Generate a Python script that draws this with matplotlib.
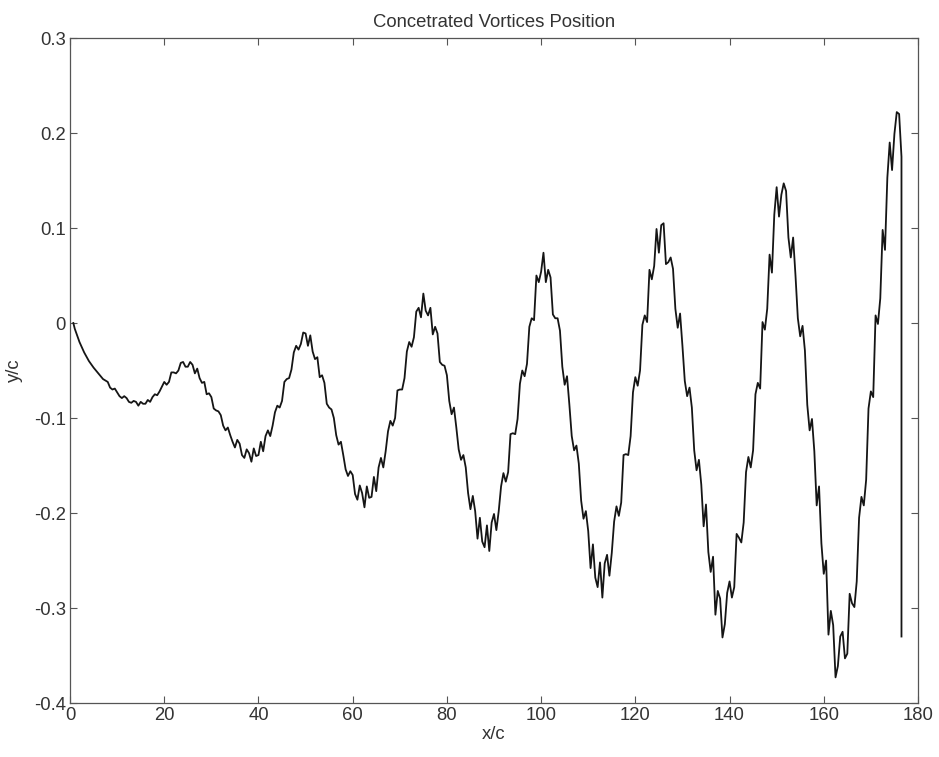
import numpy as np
import matplotlib.pyplot as plt

plt.rcParams['font.family'] = ['Liberation Sans', 'DejaVu Sans']

# Posición de los vórtices concentrados
x_c = [0.7, 1, 2, 3, 4, 5, 6, 7, 8, 9, 10, 11, 12, 13, 14, 15, 16, 17, 18, 19,
       20, 21, 22, 23, 24, 25, 26, 27, 28, 29, 30, 31, 32, 33, 34, 35, 36, 37, 38, 39,
       40, 41, 42, 43, 44, 45, 46, 47, 48, 49, 50, 51, 52, 53, 54, 55, 56, 57, 58, 59,
       60, 61, 62, 63, 64, 65, 66, 67, 68, 69, 70, 71, 72, 73, 74, 75, 76, 77, 78, 79,
       80, 81, 82, 83, 84, 85, 86, 87, 88, 89, 90, 91, 92, 93, 94, 95, 96, 97, 98, 99,
       100, 101, 102, 103, 104, 105, 106, 107, 108, 109, 110, 111, 112, 113, 114, 115, 116, 117, 118, 119,
       120, 121, 122, 123, 124, 125, 126, 127, 128, 129, 130, 131, 132, 133, 134, 135, 136, 137, 138, 139,
       140, 141, 142, 143, 144, 145, 146, 147, 148, 149, 150, 151, 152, 153, 154, 155, 156, 157, 158, 159,
       160, 161, 162, 163, 164, 165, 166, 167, 168, 169, 170, 171, 172, 173, 174, 175, 176]

y_c = [0.000, -0.006, -0.020, -0.031, -0.040, -0.047, -0.053, -0.059, -0.062, -0.070,
       -0.073, -0.079, -0.079, -0.084, -0.083, -0.083, -0.085, -0.083, -0.075, -0.072,
       -0.062, -0.062, -0.052, -0.050, -0.041, -0.046, -0.044, -0.048, -0.063, -0.075,
       -0.078, -0.092, -0.097, -0.113, -0.118, -0.131, -0.127, -0.142, -0.137, -0.132,
       -0.139, -0.135, -0.113, -0.108, -0.087, -0.082, -0.059, -0.049, -0.024, -0.022,
       -0.011, -0.013, -0.038, -0.057, -0.063, -0.089, -0.100, -0.128, -0.139, -0.161,
       -0.160, -0.186, -0.179, -0.172, -0.183, -0.177, -0.142, -0.135, -0.103, -0.100,
       -0.070, -0.058, -0.020, -0.015, 0.016, 0.031, 0.008, -0.012, -0.011, -0.044,
       -0.055, -0.096, -0.110, -0.144, -0.152, -0.196, -0.198, -0.205, -0.236, -0.240,
       -0.201, -0.198, -0.158, -0.157, -0.116, -0.101, -0.050, -0.043, 0.005, 0.050,
       0.054, 0.043, 0.048, 0.005, -0.008, -0.065, -0.086, -0.134, -0.148, -0.206,
       -0.219, -0.233, -0.278, -0.289, -0.244, -0.242, -0.193, -0.189, -0.138, -0.119,
       -0.057, -0.050, 0.008, 0.056, 0.060, 0.074, 0.105, 0.064, 0.057, -0.005,
       -0.024, -0.077, -0.089, -0.155, -0.170, -0.191, -0.262, -0.307, -0.290, -0.317,
       -0.272, -0.278, -0.226, -0.210, -0.141, -0.134, -0.063, 0.001, 0.015, 0.053,
       0.143, 0.135, 0.139, 0.069, 0.050, -0.014, -0.029, -0.113, -0.135, -0.172,
       -0.264, -0.328, -0.318, -0.361, -0.325, -0.348, -0.295, -0.272, -0.183, -0.165,
       -0.072, 0.008, 0.026, 0.077, 0.190, 0.199, 0.220]

# muestras intermedias (x = 8.5 ... 175.5)
x_half = [8.5, 9.5, 10.5, 11.5, 12.5, 13.5, 14.5, 15.5, 16.5, 17.5, 18.5, 19.5,
          20.5, 21.5, 22.5, 23.5, 24.5, 25.5, 26.5, 27.5, 28.5, 29.5, 30.5, 31.5, 32.5, 33.5, 34.5,
          35.5, 36.5, 37.5, 38.5, 39.5, 40.5, 41.5, 42.5, 43.5, 44.5, 45.5, 46.5, 47.5, 48.5, 49.5,
          50.5, 51.5, 52.5, 53.5, 54.5, 55.5, 56.5, 57.5, 58.5, 59.5,
          60.5, 61.5, 62.5, 63.5, 64.5, 65.5, 66.5, 67.5, 68.5, 69.5, 70.5, 71.5, 72.5, 73.5, 74.5,
          75.5, 76.5, 77.5, 78.5, 79.5, 80.5, 81.5, 82.5, 83.5, 84.5,
          85.5, 86.5, 87.5, 88.5, 89.5, 90.5, 91.5, 92.5, 93.5, 94.5, 95.5, 96.5, 97.5, 98.5, 99.5,
          100.5, 101.5, 102.5, 103.5, 104.5, 105.5, 106.5, 107.5, 108.5, 109.5,
          110.5, 111.5, 112.5, 113.5, 114.5, 115.5, 116.5, 117.5, 118.5, 119.5, 120.5, 121.5, 122.5,
          123.5, 124.5, 125.5, 126.5, 127.5, 128.5, 129.5, 130.5, 131.5, 132.5, 133.5, 134.5,
          135.5, 136.5, 137.5, 138.5, 139.5, 140.5, 141.5, 142.5, 143.5, 144.5, 145.5, 146.5, 147.5,
          148.5, 149.5, 150.5, 151.5, 152.5, 153.5, 154.5, 155.5, 156.5, 157.5, 158.5, 159.5,
          160.5, 161.5, 162.5, 163.5, 164.5, 165.5, 166.5, 167.5, 168.5, 169.5, 170.5, 171.5, 172.5,
          173.5, 174.5, 175.5]

y_half = [-0.068, -0.069, -0.077, -0.077, -0.083, -0.082, -0.087, -0.085, -0.081, -0.078, -0.076, -0.067,
          -0.065, -0.052, -0.053, -0.042, -0.046, -0.041, -0.053, -0.058, -0.062, -0.074, -0.090, -0.093,
          -0.108, -0.110, -0.125,
          -0.123, -0.139, -0.133, -0.146, -0.140, -0.125, -0.119, -0.119, -0.094, -0.089, -0.062, -0.058,
          -0.031, -0.028, -0.010,
          -0.024, -0.030, -0.036, -0.055, -0.085, -0.091, -0.118, -0.125, -0.154, -0.156,
          -0.180, -0.171, -0.194, -0.184, -0.162, -0.152, -0.152, -0.114, -0.108, -0.071, -0.070, -0.030,
          -0.025, 0.012, 0.006,
          0.013, 0.016, -0.004, -0.041, -0.045, -0.082, -0.089, -0.133, -0.139, -0.179,
          -0.182, -0.227, -0.230, -0.213, -0.210, -0.218, -0.172, -0.167, -0.117, -0.117, -0.064, -0.056,
          -0.004, 0.003, 0.043,
          0.074, 0.056, 0.009, 0.005, -0.046, -0.056, -0.119, -0.129, -0.187, -0.198,
          -0.258, -0.268, -0.252, -0.253, -0.266, -0.209, -0.203, -0.139, -0.139, -0.073, -0.066, -0.002,
          0.001,
          0.046, 0.099, 0.103, 0.062, 0.069, 0.015, 0.010, -0.061, -0.068, -0.134, -0.144, -0.214,
          -0.241, -0.246, -0.282, -0.331, -0.284, -0.289, -0.222, -0.231, -0.157, -0.152, -0.075, -0.069,
          -0.007,
          0.072, 0.114, 0.112, 0.147, 0.090, 0.090, 0.005, -0.003, -0.086, -0.101, -0.192, -0.232,
          -0.250, -0.303, -0.373, -0.330, -0.353, -0.285, -0.299, -0.205, -0.192, -0.090, -0.078, -0.001,
          0.098,
          0.153, 0.161, 0.222]

# caída vertical final
x_end = [176.5, 176.5]
y_end = [0.175, -0.330]

x_ticks = [0, 20, 40, 60, 80, 100, 120, 140, 160, 180]
y_ticks = [-0.4, -0.3, -0.2, -0.1, 0, 0.1, 0.2, 0.3]
y_tick_labels = ['-0.4', '-0.3', '-0.2', '-0.1', '0', '0.1', '0.2', '0.3']

# juntar y ordenar las muestras
xs = np.concatenate([x_c, x_half])
ys = np.concatenate([y_c, y_half])
order = np.argsort(xs, kind='stable')
xs = np.concatenate([xs[order], x_end])
ys = np.concatenate([ys[order], y_end])

fig = plt.figure(figsize=(9.39, 7.57), dpi=100)
ax = fig.add_axes([0.0746, 0.0713, 0.903, 0.8785])

ax.plot(xs, ys, color='#151515', lw=1.3)

ax.set_xlim(0, 180)
ax.set_ylim(-0.4, 0.3)
ax.set_xticks(x_ticks)
ax.set_xticklabels([str(t) for t in x_ticks])
ax.set_yticks(y_ticks)
ax.set_yticklabels(y_tick_labels)

ax.tick_params(direction='in', length=5, width=0.8, top=True, right=True,
               labelsize=13.3, colors='#555555', labelcolor='#333333', pad=3)
for s in ax.spines.values():
    s.set_color('#555555')
    s.set_linewidth(0.9)

ax.set_title('Concetrated Vortices Position', fontsize=13.3, color='#333333', pad=8)
ax.set_xlabel('x/c', fontsize=13.3, color='#333333', labelpad=1)
ax.set_ylabel('y/c', fontsize=13.3, color='#333333', labelpad=8)

fig.savefig('out.png', dpi=100)
